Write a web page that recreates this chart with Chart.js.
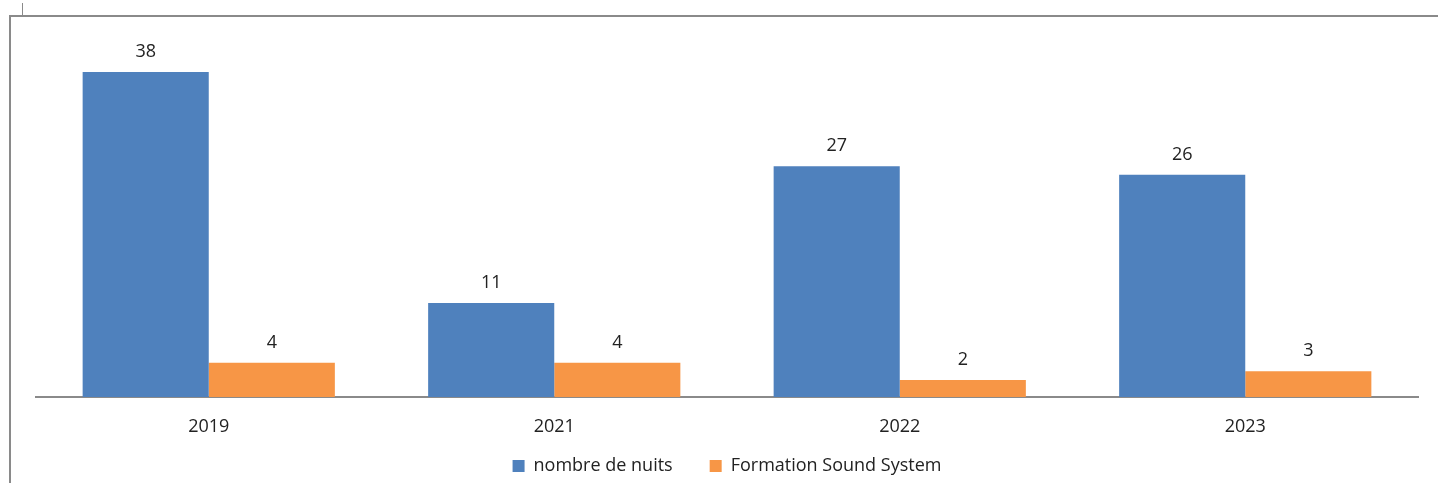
<!DOCTYPE html>
<html>
<head>
<meta charset="utf-8">
<script src="https://cdn.jsdelivr.net/npm/chart.js@4"></script>
<style>
  html, body { margin: 0; padding: 0; background: #fff; overflow: hidden; }
  #wrap { position: relative; width: 1438px; height: 483px; }
  #c { position: absolute; left: 0; top: 0; }
  .ln { position: absolute; background: #8a8a8a; }
</style>
</head>
<body>
<div id="wrap">
  <div class="ln" style="left:9px; top:15px; width:1429px; height:2px;"></div>
  <div class="ln" style="left:9px; top:15px; width:2px; height:468px;"></div>
  <div class="ln" style="left:22px; top:3px; width:1px; height:12px;"></div>
  <canvas id="c" width="1438" height="483"></canvas>
</div>
<script>
const categories = ['2019', '2021', '2022', '2023'];
const nombreDeNuits = [38, 11, 27, 26];
const formationSoundSystem = [4, 4, 2, 3];
const seriesNames = ['nombre de nuits', 'Formation Sound System'];

const FONT = "'Open Sans', sans-serif";
const TEXT = '#222222';

const dataLabels = {
  id: 'dataLabels',
  afterDatasetsDraw(chart) {
    const ctx = chart.ctx;
    ctx.save();
    ctx.font = '18px ' + FONT;
    ctx.fillStyle = TEXT;
    ctx.textAlign = 'center';
    ctx.textBaseline = 'middle';
    chart.data.datasets.forEach((ds, i) => {
      const meta = chart.getDatasetMeta(i);
      meta.data.forEach((el, j) => {
        ctx.fillText(String(ds.data[j]), el.x, el.y - 20);
      });
    });
    ctx.restore();
  }
};

// place the legend just below the axis labels
const legendPlace = {
  id: 'legendPlace',
  afterLayout(chart) {
    const lg = chart.legend;
    if (!lg) return;
    const h = lg.height;
    lg.top = 420;
    lg.bottom = 420 + h;
  }
};

new Chart(document.getElementById('c'), {
  type: 'bar',
  data: {
    labels: categories,
    datasets: [
      { label: seriesNames[0], data: nombreDeNuits, backgroundColor: '#4F81BD', categoryPercentage: 0.73, barPercentage: 1 },
      { label: seriesNames[1], data: formationSoundSystem, backgroundColor: '#F79646', categoryPercentage: 0.73, barPercentage: 1 }
    ]
  },
  options: {
    responsive: false,
    animation: false,
    layout: { padding: { left: 36, right: 20, top: 55, bottom: -19 } },
    plugins: {
      legend: {
        position: 'bottom',
        labels: { boxWidth: 12, boxHeight: 12, padding: 37, color: TEXT, font: { family: FONT, size: 18 } }
      },
      tooltip: { enabled: false }
    },
    scales: {
      x: {
        grid: { display: false, drawTicks: false },
        border: { display: true, color: '#8a8a8a', width: 2 },
        ticks: { color: TEXT, font: { family: FONT, size: 18 }, padding: 19 },
        afterFit(scale) { scale.height = 40; }
      },
      y: { display: false, min: 0, max: 40 }
    }
  },
  plugins: [dataLabels, legendPlace]
});
</script>
</body>
</html>
